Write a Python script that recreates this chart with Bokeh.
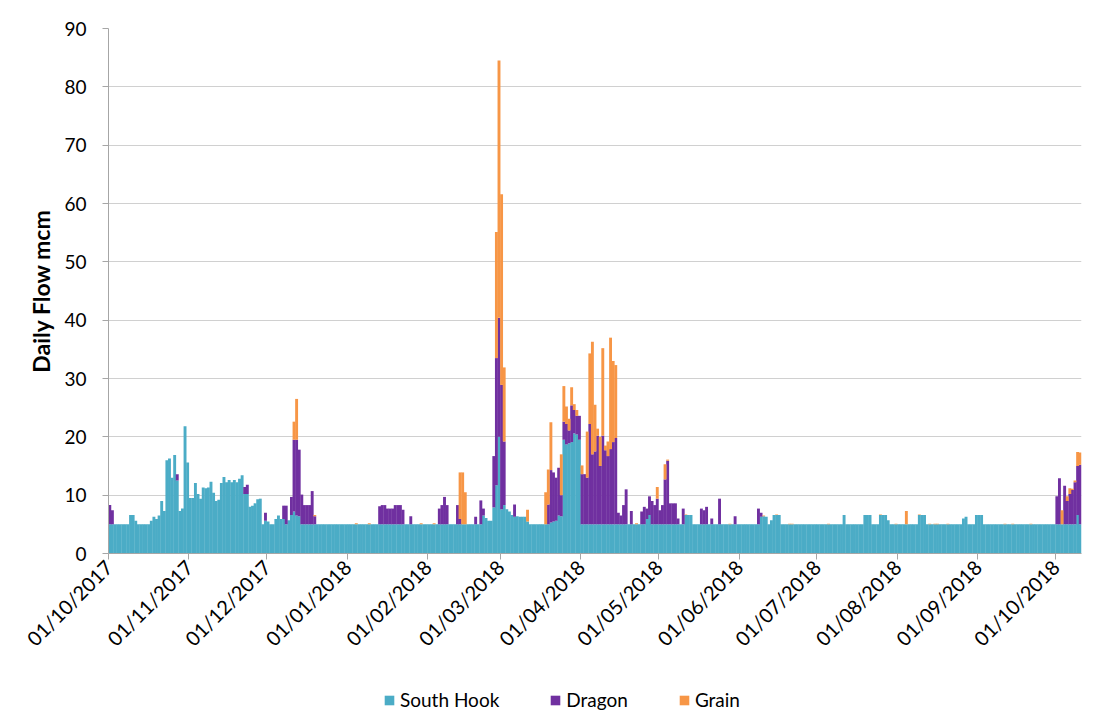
import pandas as pd
from math import pi
from bokeh.plotting import figure
from bokeh.layouts import column
from bokeh.models import (ColumnDataSource, FixedTicker, DatetimeTickFormatter,
                          Range1d, Legend, LegendItem)
from bokeh.embed import file_html
from bokeh.resources import INLINE

start_date = "2017-10-01"
series_names = ["South Hook", "Dragon", "Grain"]
series_colors = ["#4BACC6", "#7030A0", "#F79646"]
month_ticks = ["2017-10-01", "2017-11-01", "2017-12-01", "2018-01-01", "2018-02-01",
               "2018-03-01", "2018-04-01", "2018-05-01", "2018-06-01", "2018-07-01",
               "2018-08-01", "2018-09-01", "2018-10-01"]
y_ticks = [0, 10, 20, 30, 40, 50, 60, 70, 80, 90]

# daily flows (mcm), one value per day from 01/10/2017
south_hook = [
    5.0, 5.0, 5.0, 5.0, 5.0, 5.0, 5.0, 5.0, 6.6, 6.6,
    5.6, 5.0, 5.0, 5.0, 5.0, 5.0, 5.6, 6.3, 5.9, 6.5,
    9.0, 7.3, 16.0, 16.3, 13.0, 16.9, 12.5, 7.3, 7.7, 21.8,
    15.6, 9.5, 9.5, 12.1, 10.2, 9.4, 11.3, 11.2, 11.3, 12.3,
    10.4, 9.0, 9.2, 12.1, 13.1, 12.2, 12.6, 12.2, 12.6, 12.2,
    12.8, 13.4, 10.2, 10.2, 8.0, 8.2, 8.6, 9.3, 9.4, 5.0,
    5.6, 5.5, 5.0, 5.0, 5.9, 6.5, 5.9, 5.9, 5.0, 5.7,
    6.6, 7.2, 6.5, 6.4, 5.0, 5.0, 5.0, 5.0, 5.0, 5.0,
    5.0, 5.0, 5.0, 5.0, 5.0, 5.0, 5.0, 5.0, 5.0, 5.0,
    5.0, 5.0, 5.0, 5.0, 5.0, 5.0, 5.0, 5.0, 5.0, 5.0,
    5.0, 5.0, 5.0, 5.0, 5.0, 5.0, 5.0, 5.0, 5.0, 5.0,
    5.0, 5.0, 5.0, 5.0, 5.0, 5.0, 5.0, 5.0, 5.0, 5.0,
    5.0, 5.0, 5.0, 5.0, 5.0, 5.0, 5.0, 5.0, 5.0, 5.0,
    5.0, 5.0, 5.0, 5.0, 5.0, 5.0, 5.0, 5.0, 5.0, 5.0,
    5.0, 5.0, 5.0, 5.0, 6.5, 6.1, 5.6, 5.6, 7.9, 11.7,
    20.0, 7.6, 8.3, 7.6, 7.2, 6.6, 6.3, 6.4, 6.3, 6.3,
    6.3, 5.5, 5.0, 5.0, 5.0, 5.0, 5.0, 5.0, 5.0, 5.0,
    5.3, 5.5, 5.6, 6.5, 6.4, 19.5, 18.7, 18.9, 19.1, 20.6,
    20.4, 19.5, 5.0, 5.0, 5.0, 5.0, 5.0, 5.0, 5.0, 5.0,
    5.0, 5.0, 5.0, 5.0, 5.0, 5.0, 5.0, 5.0, 5.0, 5.0,
    5.0, 5.0, 5.0, 5.0, 5.0, 5.0, 5.0, 5.9, 6.6, 5.0,
    5.0, 5.0, 5.0, 5.0, 5.0, 5.0, 5.0, 5.0, 5.0, 5.0,
    5.0, 5.0, 6.6, 6.6, 6.6, 5.0, 5.0, 5.0, 5.0, 5.0,
    5.0, 5.0, 5.0, 5.0, 5.0, 5.0, 5.0, 5.0, 5.0, 5.0,
    5.0, 5.0, 5.0, 5.0, 5.0, 5.0, 5.0, 5.0, 5.0, 5.0,
    5.0, 6.3, 6.4, 6.3, 5.0, 5.7, 6.6, 6.6, 6.6, 5.0,
    5.0, 5.0, 5.0, 5.0, 5.0, 5.0, 5.0, 5.0, 5.0, 5.0,
    5.0, 5.0, 5.0, 5.0, 5.0, 5.0, 5.0, 5.0, 5.0, 5.0,
    5.0, 5.0, 5.0, 6.6, 5.0, 5.0, 5.0, 5.0, 5.0, 5.0,
    5.0, 6.6, 6.6, 6.6, 5.0, 5.0, 5.0, 6.6, 6.6, 6.6,
    5.7, 5.0, 5.0, 5.0, 5.0, 5.0, 5.0, 5.0, 5.0, 5.0,
    5.0, 5.0, 6.6, 6.6, 6.6, 5.0, 5.0, 5.0, 5.0, 5.0,
    5.0, 5.0, 5.0, 5.0, 5.0, 5.0, 5.0, 5.0, 5.0, 6.0,
    6.3, 5.0, 5.0, 5.0, 6.6, 6.6, 6.6, 5.0, 5.0, 5.0,
    5.0, 5.0, 5.0, 5.0, 5.0, 5.0, 5.0, 5.0, 5.0, 5.0,
    5.0, 5.0, 5.0, 5.0, 5.0, 5.0, 5.0, 5.0, 5.0, 5.0,
    5.0, 5.0, 5.0, 5.0, 5.0, 5.0, 5.0, 5.0, 5.0, 5.0,
    5.0, 5.0, 5.0, 6.6, 5.0,
]

dragon = [
    3.3, 2.4, 0, 0, 0, 0, 0, 0, 0, 0,
    0, 0, 0, 0, 0, 0, 0, 0, 0, 0,
    0, 0, 0, 0, 0, 0, 1.1, 0, 0, 0,
    0, 0, 0, 0, 0, 0, 0, 0, 0, 0,
    0, 0, 0, 0, 0, 0, 0, 0, 0, 0,
    0, 0, 1.2, 1.6, 0, 0, 0, 0, 0, 0,
    1.4, 0, 0, 0, 0, 0, 0, 2.3, 3.2, 0,
    3.1, 12.3, 13.0, 11.4, 5.1, 3.3, 3.3, 3.3, 5.7, 1.4,
    0, 0, 0, 0, 0, 0, 0, 0, 0, 0,
    0, 0, 0, 0, 0, 0, 0, 0, 0, 0,
    0, 0, 0, 0, 3.1, 3.3, 3.3, 2.7, 2.7, 2.7,
    3.3, 3.3, 3.3, 2.5, 0, 0, 1.4, 0, 0, 0,
    0, 0, 0, 0, 0, 0, 0, 2.7, 3.3, 4.7,
    3.3, 0, 0, 0, 3.3, 0.9, 0, 0, 0, 0,
    0, 1.3, 0, 4.1, 1.2, 0, 0, 0, 8.8, 21.8,
    20.4, 21.3, 10.9, 0, 0, 0, 2.1, 0, 0, 0,
    0, 0, 0, 0, 0, 0, 0, 0, 0, 3.4,
    9.0, 8.4, 7.4, 8.2, 3.6, 3.1, 3.5, 2.2, 6.3, 4.0,
    3.2, 4.1, 8.6, 8.6, 8.0, 17.2, 12.0, 12.5, 15.2, 10.0,
    15.2, 12.7, 11.7, 12.9, 14.1, 14.8, 2.0, 1.5, 3.3, 6.0,
    0, 2.3, 0, 0, 0, 2.2, 3.0, 1.8, 3.2, 4.0,
    3.3, 4.4, 2.4, 3.3, 7.7, 10.9, 3.6, 3.6, 3.6, 1.0,
    0, 2.7, 0, 0, 0, 0, 0, 0, 2.7, 2.4,
    3.0, 0, 1.0, 0, 0, 4.4, 0, 0, 0, 0,
    0, 1.4, 0, 0, 0, 0, 0, 0, 0, 0,
    2.7, 0.7, 0, 0, 0, 0, 0, 0, 0, 0,
    0, 0, 0, 0, 0, 0, 0, 0, 0, 0,
    0, 0, 0, 0, 0, 0, 0, 0, 0, 0,
    0, 0, 0, 0, 0, 0, 0, 0, 0, 0,
    0, 0, 0, 0, 0, 0, 0, 0, 0, 0,
    0, 0, 0, 0, 0, 0, 0, 0, 0, 0,
    0, 0, 0, 0, 0, 0, 0, 0, 0, 0,
    0, 0, 0, 0, 0, 0, 0, 0, 0, 0,
    0, 0, 0, 0, 0, 0, 0, 0, 0, 0,
    0, 0, 0, 0, 0, 0, 0, 0, 0, 0,
    0, 0, 0, 0, 0, 0, 0, 0, 0, 0,
    0, 0, 0, 0, 0, 4.8, 7.9, 0, 6.6, 4.0,
    5.2, 5.9, 7.2, 8.4, 10.2,
]

grain = [
    0, 0, 0, 0, 0, 0, 0, 0, 0, 0,
    0, 0, 0, 0, 0, 0, 0, 0, 0, 0,
    0, 0, 0, 0, 0, 0, 0, 0, 0, 0,
    0, 0, 0, 0, 0, 0, 0, 0, 0, 0,
    0, 0, 0, 0, 0, 0, 0, 0, 0, 0,
    0, 0, 0, 0, 0, 0, 0, 0, 0, 0,
    0, 0, 0, 0, 0, 0, 0, 0, 0, 0,
    0, 3.1, 7.0, 0, 0, 0, 0, 0, 0, 0.2,
    0, 0, 0, 0, 0, 0, 0, 0, 0, 0,
    0, 0, 0, 0, 0, 0.2, 0, 0, 0, 0,
    0.2, 0, 0, 0, 0, 0, 0, 0, 0, 0,
    0, 0, 0, 0, 0, 0, 0, 0, 0, 0,
    0.2, 0, 0, 0, 0, 0.2, 0, 0, 0, 0,
    0, 0, 0, 0, 0, 8.0, 8.9, 5.5, 0, 0,
    0, 0, 0, 0, 0, 0, 0, 0, 0, 21.6,
    44.1, 32.7, 12.7, 0, 0, 0, 0, 0, 0, 0,
    0, 2.0, 0, 0, 0, 0, 0, 0, 5.5, 6.0,
    8.2, 0, 0, 0, 7.0, 6.1, 3.0, 2.0, 3.1, 1.0,
    1.0, 0, 1.5, 0, 7.9, 12.1, 19.3, 8.0, 1.2, 5.0,
    15.0, 0.8, 2.5, 19.1, 13.9, 12.5, 0, 0, 0, 0,
    0, 0, 0, 0.2, 0, 0, 0, 0, 0, 0,
    0, 2.0, 0, 0, 2.6, 0.2, 0, 0, 0, 0,
    0, 0, 0.1, 0, 0, 0, 0, 0, 0, 0,
    0, 0, 0, 0, 0, 0, 0, 0, 0, 0.1,
    0, 0, 0, 0, 0, 0, 0, 0, 0, 0,
    0, 0, 0.1, 0, 0, 0, 0, 0.1, 0, 0,
    0, 0, 0.1, 0.1, 0, 0, 0, 0, 0, 0,
    0, 0, 0, 0, 0, 0, 0, 0.1, 0, 0,
    0, 0, 0, 0, 0, 0, 0, 0, 0, 0,
    0, 0, 0, 0, 0, 0, 0, 0.1, 0, 0,
    0, 0, 0, 0.1, 0, 0, 0, 2.3, 0, 0,
    0, 0, 0.1, 0, 0, 0, 0.1, 0, 0.1, 0.1,
    0, 0, 0, 0.1, 0, 0, 0, 0, 0, 0,
    0, 0, 0, 0, 0, 0, 0, 0, 0, 0,
    0, 0, 0, 0, 0, 0.1, 0, 0, 0.1, 0,
    0, 0, 0, 0, 0, 0.1, 0, 0, 0, 0,
    0, 0, 0, 0, 0, 0, 0, 2.4, 0, 0.8,
    1.0, 0.2, 0.3, 2.4, 2.1,
]

FONT = "Lato"
DAY_MS = 86400000
TXT = "#000000"
AXIS_GREY = "#A6A6A6"

dates = pd.date_range(start_date, periods=len(south_hook), freq="D")
centers = dates + pd.Timedelta(hours=12)
source = ColumnDataSource(dict(x=centers, south_hook=south_hook, dragon=dragon, grain=grain))

p = figure(width=1103, height=678, x_axis_type="datetime",
           x_range=Range1d(dates[0], dates[-1] + pd.Timedelta(days=1)),
           y_range=Range1d(0, 90),
           output_backend="svg", toolbar_location=None,
           min_border_left=108, min_border_right=22,
           min_border_top=28, min_border_bottom=125)

# slight overlap of neighbouring days hides anti-aliasing seams
renderers = p.vbar_stack(["south_hook", "dragon", "grain"], x="x", width=DAY_MS * 1.12,
                         source=source, fill_color=series_colors, line_color=None)

p.background_fill_color = "white"
p.border_fill_color = "white"
p.outline_line_color = None
p.xgrid.grid_line_color = None
p.ygrid.grid_line_color = "#D0D0D0"
p.ygrid.grid_line_width = 1

xa = p.xaxis[0]
xa.ticker = FixedTicker(ticks=[pd.Timestamp(d).value / 1e6 for d in month_ticks])
fmt = "%d/%m/%Y"
xa.formatter = DatetimeTickFormatter(microseconds=fmt, milliseconds=fmt, seconds=fmt,
                                     minsec=fmt, minutes=fmt, hourmin=fmt, hours=fmt,
                                     days=fmt, months=fmt, years=fmt)
xa.major_label_orientation = pi / 4
xa.major_label_text_font = FONT
xa.major_label_text_font_size = "20px"
xa.major_label_text_color = TXT
xa.major_label_standoff = 4
xa.axis_line_color = AXIS_GREY
xa.major_tick_line_color = AXIS_GREY
xa.major_tick_out = 6
xa.major_tick_in = 0
xa.minor_tick_line_color = None

ya = p.yaxis[0]
ya.ticker = FixedTicker(ticks=y_ticks)
ya.major_label_text_font = FONT
ya.major_label_text_font_size = "19px"
ya.major_label_text_color = TXT
ya.major_label_standoff = 16
ya.axis_line_color = AXIS_GREY
ya.major_tick_line_color = AXIS_GREY
ya.major_tick_out = 6
ya.major_tick_in = 0
ya.minor_tick_line_color = None
ya.axis_label = "Daily Flow mcm"
ya.axis_label_text_font = FONT
ya.axis_label_text_font_style = "bold"
ya.axis_label_text_font_size = "23px"
ya.axis_label_text_color = TXT
ya.axis_label_standoff = 6

# legend strip below the chart (its frame is aligned with the chart's frame)
lg = figure(width=1103, height=44, output_backend="svg", toolbar_location=None,
            x_axis_location=None, y_axis_location=None,
            x_range=Range1d(0, 1), y_range=Range1d(0, 1), min_border=0)
lg.outline_line_color = None
lg.xgrid.grid_line_color = None
lg.ygrid.grid_line_color = None
lg.background_fill_color = "white"
lg.border_fill_color = "white"
swatches = [lg.vbar(x=[0.5], top=[0], bottom=[0], width=0, fill_color=c, line_color=None)
            for c in series_colors]
legend = Legend(items=[LegendItem(label=n, renderers=[r]) for n, r in zip(series_names, swatches)],
                orientation="horizontal", location=(275, 11))
legend.label_text_font = FONT
legend.label_text_font_size = "19px"
legend.label_text_color = TXT
legend.glyph_width = 12
legend.glyph_height = 12
legend.label_standoff = 5
legend.spacing = 50
legend.padding = 5
legend.border_line_color = None
legend.background_fill_alpha = 0
lg.add_layout(legend)

layout = column(p, lg, spacing=0)
open("out.html", "w").write(file_html(layout, INLINE))
